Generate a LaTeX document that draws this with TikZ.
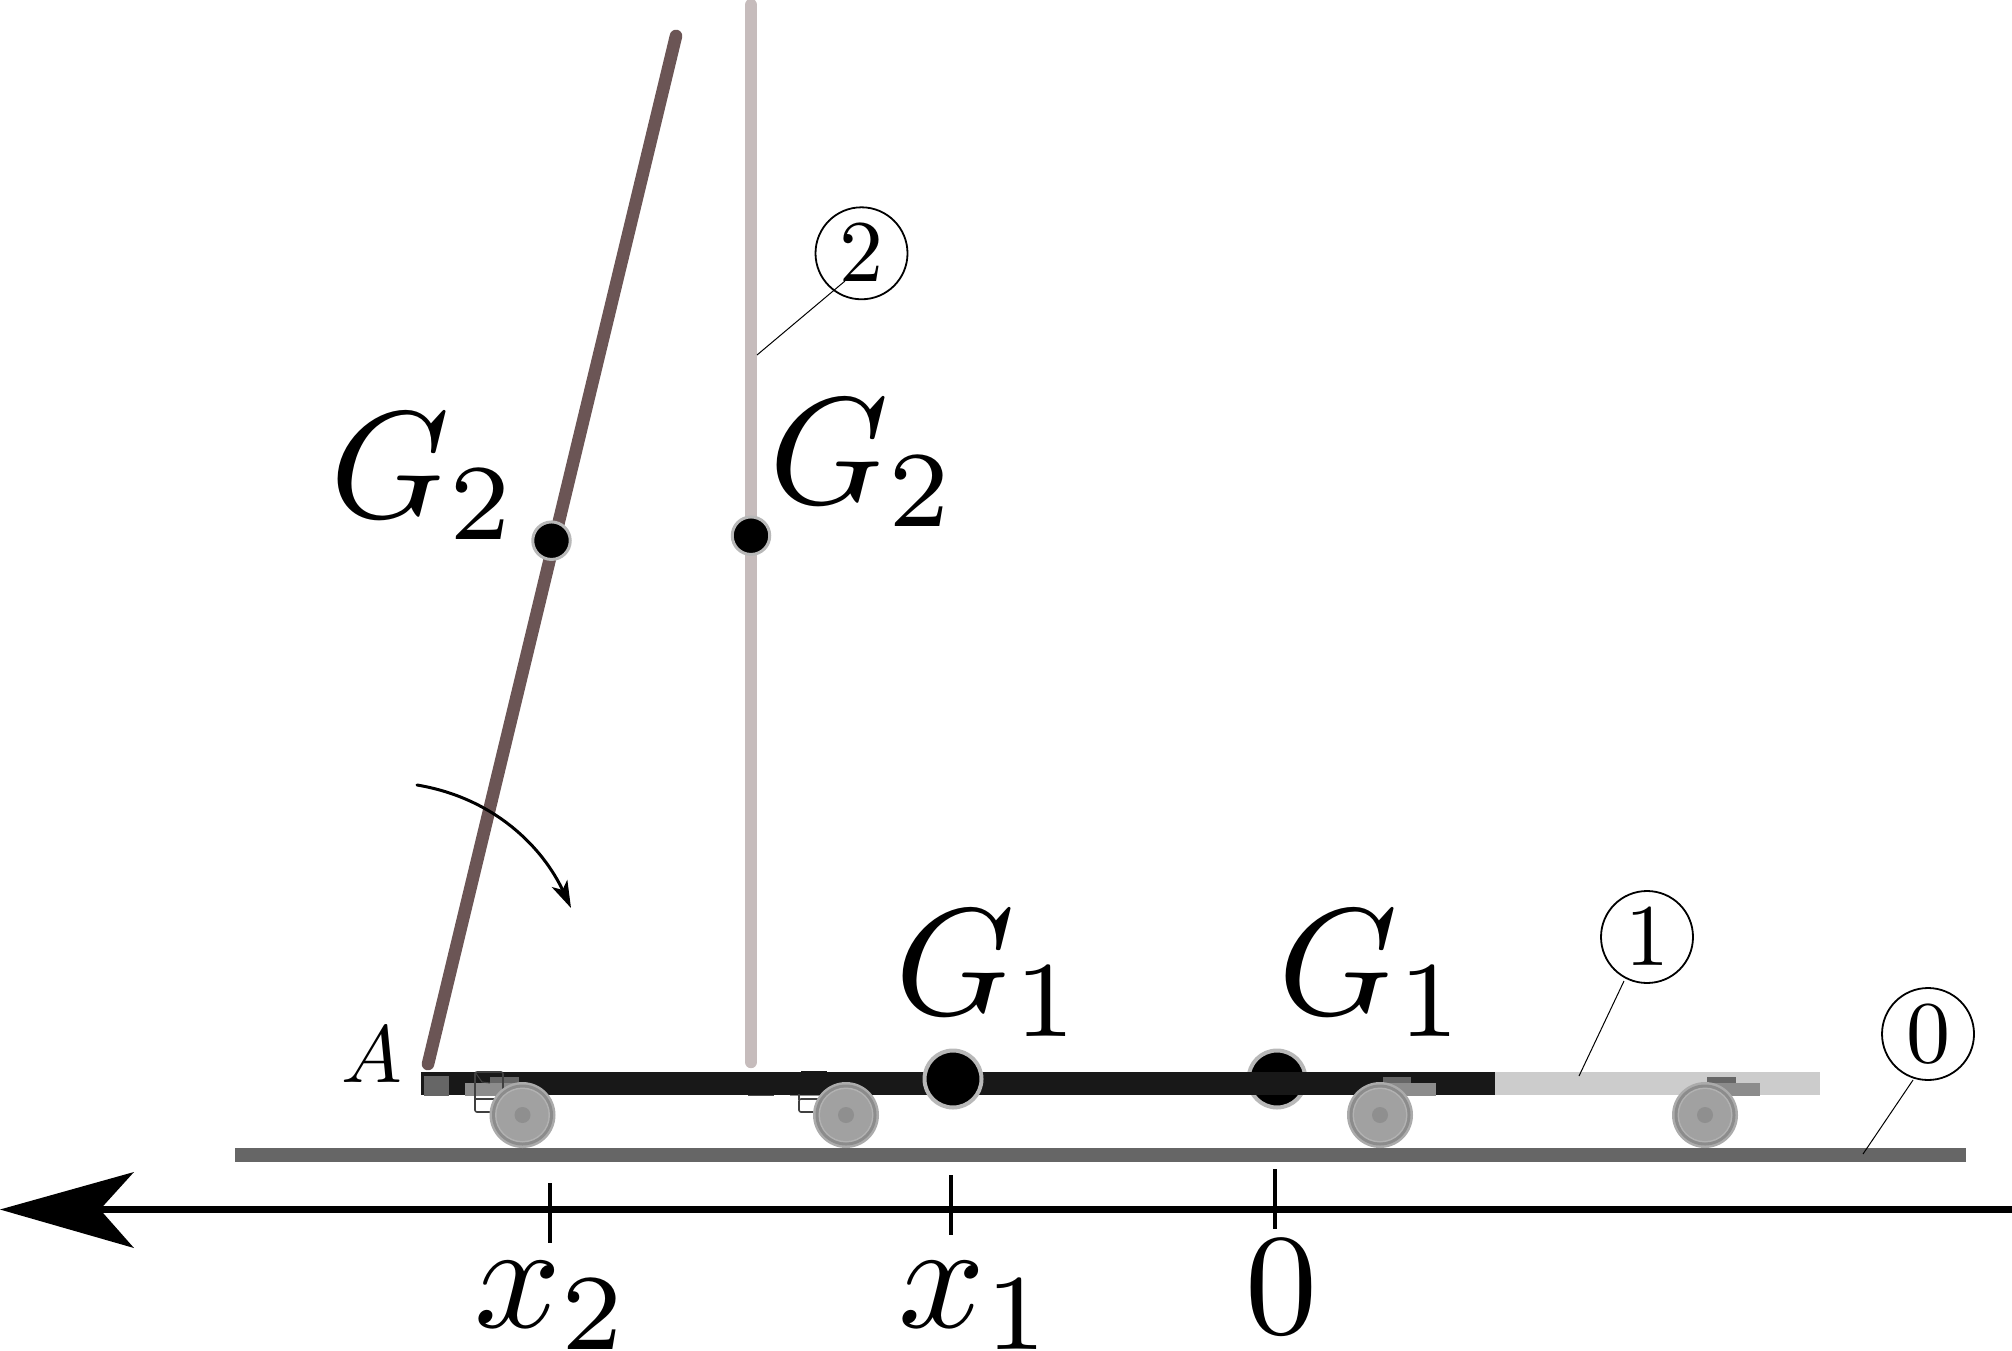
\documentclass[tikz,border=0pt]{standalone}
\usetikzlibrary{arrows.meta}
\DeclareFontFamily{OML}{cmm}{\skewchar\font127 }
\DeclareFontShape{OML}{cmm}{m}{it}{<->cmmi10}{}
\DeclareFontFamily{OMS}{cmsy}{\skewchar\font48 }
\DeclareFontShape{OMS}{cmsy}{m}{n}{<->cmsy10}{}
\DeclareFontFamily{OMX}{cmex}{}
\DeclareFontShape{OMX}{cmex}{m}{n}{<->cmex10}{}
\DeclareFontFamily{OT1}{cmr}{\hyphenchar\font45 }
\DeclareFontShape{OT1}{cmr}{m}{n}{<-108>cmr10 <108-109>cmr7 <109->cmr10}{}
\DeclareMathSizes{152}{152}{108}{76}
\DeclareMathSizes{88}{88}{62}{44}
\definecolor{barK}{HTML}{181818}
\definecolor{barL}{HTML}{CCCCCC}
\definecolor{grd}{HTML}{666666}
\definecolor{rodD}{HTML}{6B5555}
\definecolor{rodL}{HTML}{C6BCBC}
\tikzset{x=1pt,y=-1pt,
  dotn/.style={circle,fill=black,draw=#1,inner sep=0pt},
  big/.style={inner sep=0pt,anchor=base west,font=\fontsize{152}{152}\selectfont},
  numc/.style={circle,draw=black,line width=1.8pt,fill=none,minimum size=92pt,inner sep=0pt,font=\fontsize{88}{88}\selectfont},
  leader/.style={draw=black,line width=1pt},
  tick/.style={draw=black,line width=3.4pt},
  frameb/.style={draw=#1,line width=1.6pt,rounded corners=2pt},
}
\newcommand{\wheel}[2]{%
  \fill[black!33] (#1,#2) circle[radius=33];
  \fill[black!45] (#1,#2) circle[radius=30.5];
  \fill[black!30] (#1,#2) circle[radius=27.5];
  \fill[black!37] (#1,#2) circle[radius=26];
  \fill[black!44] (#1,#2) circle[radius=8];
}
\begin{document}
\begin{tikzpicture}
\useasboundingbox (0,0) rectangle (2012,1351);
% ground
\fill[grd] (235,1148) rectangle (1966,1161.5);
% G1 right (behind)
\node[dotn={black!28},line width=4pt,minimum size=57pt] (g1b) at (1277,1079) {};
% rods
\coordinate (rodAbot) at (428,1064);
\coordinate (rodAtop) at (676,36);
\coordinate (rodBbot) at (751,1062);
\coordinate (rodBtop) at (751,5);
\draw[rodD,line width=12.6pt,line cap=round] (rodAbot) -- (rodAtop);
\draw[rodL,line width=12.4pt,line cap=round] (rodBbot) -- (rodBtop);
% light cart (right)
\fill[barL] (1495,1072) rectangle (1820,1094.5);
\fill[black!45] (1705,1083) rectangle (1760,1096);
\fill[black!60] (1707,1077) rectangle (1736,1083);
% hidden parts under bar
\fill[black!70] (748,1090) rectangle (774,1096);
\fill[black!45] (790,1083) rectangle (850,1096);
% dark bar
\fill[barK] (421,1072) rectangle (1495,1094.5);
% left end block
\fill[black!60] (424,1076) rectangle (449,1096);
% hardware left
\fill[black!45] (465,1083) rectangle (525,1096);
\fill[black!60] (490,1077) rectangle (519,1083);
\draw[frameb={black!75}] (495,1112) -- (475,1112) -- (475,1072) -- (503,1072) -- (503,1099) -- (475,1099);
\draw[black!75,line width=1pt] (475,1072) -- (482,1082) -- (490,1083);
% hardware second
\draw[frameb={black!75}] (815,1112) -- (799,1112) -- (799,1099) -- (820,1099);
\fill[barK] (801,1070.5) rectangle (827,1073);
\draw[black!75,line width=1.6pt] (799,1094) -- (799,1100);
% hardware third
\fill[black!45] (1380,1083) rectangle (1436,1096);
\fill[black!60] (1383,1077) rectangle (1411,1083);
% wheels
\wheel{522.5}{1115}
\wheel{846}{1115}
\wheel{1380}{1115}
\wheel{1705}{1115}
% G dots
\node[dotn={black!28},line width=4pt,minimum size=57pt] (g1a) at (953,1079) {};
\node[dotn={black!28},line width=3pt,minimum size=37.5pt] (g2a) at (551.5,540.7) {};
\node[dotn={black!28},line width=3pt,minimum size=37.5pt] (g2b) at (751,535.7) {};
% axis
\coordinate (axR) at (2012,1209.5);
\coordinate (axL) at (100,1209.5);
\draw[black,line width=7.4pt] (axR) -- (axL);
\fill[black] (0,1209.5) -- (134,1172) -- (100,1209.5) -- (134,1248) -- cycle;
% ticks
\coordinate (t2a) at (550,1183); \coordinate (t2b) at (550,1243);
\coordinate (t1a) at (951,1175); \coordinate (t1b) at (951,1235);
\coordinate (t0a) at (1275,1169); \coordinate (t0b) at (1275,1229);
\draw[tick] (t2a) -- (t2b);
\draw[tick] (t1a) -- (t1b);
\draw[tick] (t0a) -- (t0b);
% rotation arrow
\coordinate (rs) at (417,785);
\coordinate (re) at (571,908);
\draw[black,line width=3pt,line cap=round,-{Stealth[length=27pt,width=17pt,inset=7pt]}] (rs) .. controls (495,798) and (543,848) .. (re);
% labels
\node[big] (Lg2a) at (330,517) {$G_2$};
\node[big] (Lg2b) at (769,503.5) {$G_2$};
\node[big] (Lg1a) at (895,1014) {$G_1$};
\node[big] (Lg1b) at (1278.5,1014) {$G_1$};
\node[big] (Lx2) at (474,1327) {$x_2$};
\node[big] (Lx1) at (898,1327) {$x_1$};
\node[inner sep=0pt,anchor=base,font=\fontsize{144}{144}\selectfont] (L0) at (1281,1333) {$0$};
\node[inner sep=0pt,anchor=base,font=\fontsize{81}{81}\selectfont] (LA) at (371.5,1082.7) {$A$};
% numbered circles
\node[numc] (n2) at (861.5,253.3) {$2$};
\node[numc] (n1) at (1647,937) {$1$};
\node[numc] (n0) at (1928,1034) {$0$};
\coordinate (l2) at (757,355);
\coordinate (l1) at (1579,1076);
\coordinate (l0) at (1863,1154);
\draw[leader] (845,281) -- (l2);
\draw[leader] (n1) ++(-23,44) -- (l1);
\draw[leader] (n0) ++(-15,46) -- (l0);
\end{tikzpicture}
\end{document}
